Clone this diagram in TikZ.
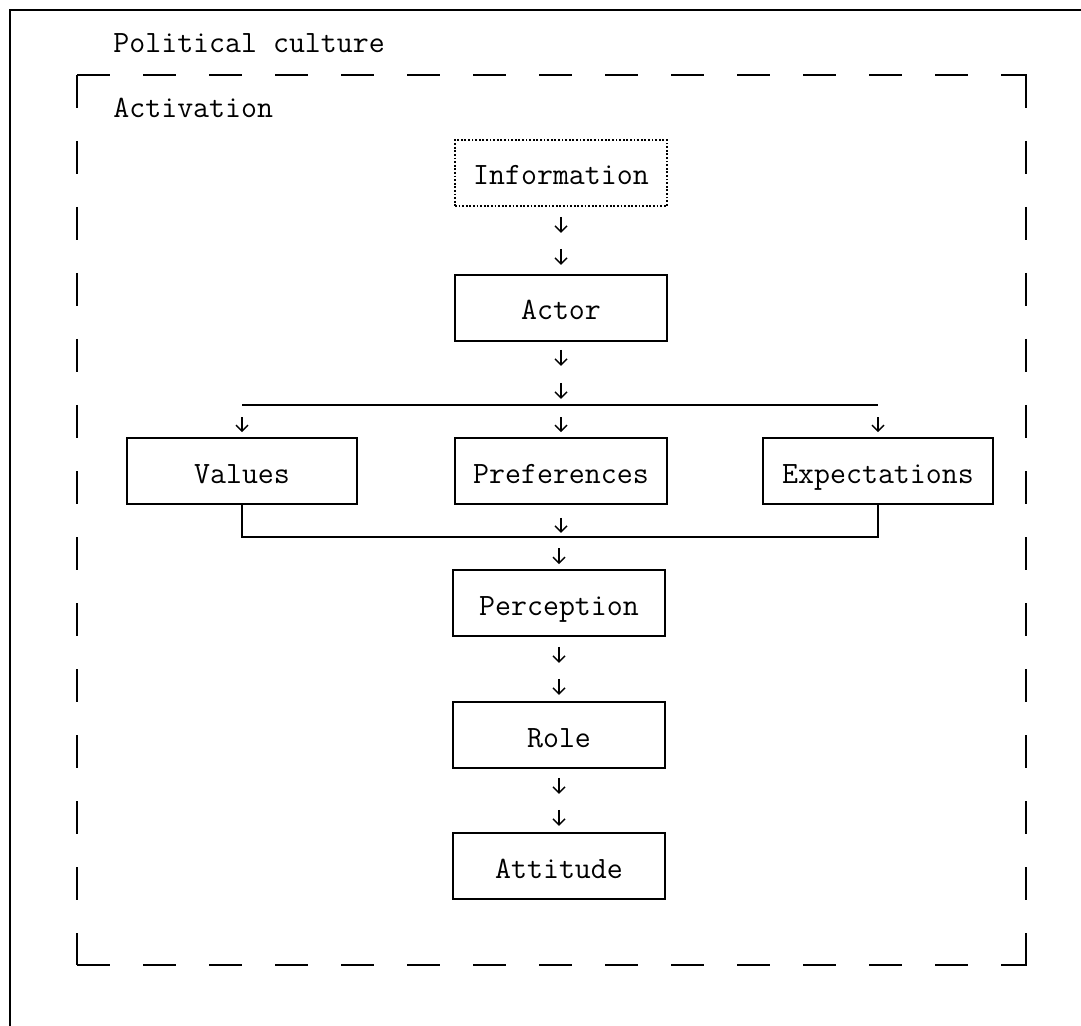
\documentclass[tikz,border=0pt]{standalone}
\usepackage{fontspec}
\usetikzlibrary{arrows.meta,calc}
\begin{document}
\begin{tikzpicture}[x=0.5pt,y=-0.5pt,
  txt/.style={font=\ttfamily\fontsize{15.5}{18}\selectfont},
  box/.style={txt,draw,line width=0.9pt,minimum width=106pt,minimum height=33pt,inner sep=0pt,
    text height=12pt,text depth=0pt},
  widebox/.style={box,minimum width=115pt},
  dotbox/.style={box,dash pattern=on 0.9pt off 0.9pt},
  frame/.style={line width=0.9pt,dash pattern=on 16.5pt off 16.5pt},
  arr/.style={line width=0.7pt,-{Straight Barb[length=3pt,width=6pt,line width=0.7pt]}},
  link/.style={line width=0.9pt}]
\useasboundingbox (0,0) rectangle (1081,1026);

% outer frame (top and left edges)
\draw[line width=0.8pt] (10,1026) -- (10,10) -- (1081,10);
\node[txt,anchor=base west,inner sep=0pt] (pc) at (113,53) {Political culture};

% inner dashed frame
\draw[frame] (77,75) -- (1027,75);
\draw[frame] (77,965) -- (1027,965);
\draw[frame] (77,75) -- (77,965);
\draw[frame] (1026,75) -- (1026,965);
\node[txt,anchor=base west,inner sep=0pt] (act) at (113,118) {Activation};

% boxes
\node[dotbox] (info) at (561,173) {Information};
\node[box] (actor) at (561,308) {Actor};
\node[widebox] (values) at (242,471) {Values};
\node[box] (pref) at (561,471) {Preferences};
\node[widebox] (expect) at (878,471) {Expectations};
\node[box] (percep) at (559,603) {Perception};
\node[box] (role) at (559,735) {Role};
\node[box] (attit) at (559,866) {Attitude};

% distribution bars
\coordinate (bar1) at (561,405);
\coordinate (bar2) at (561,537);
\draw[link] (values.south |- bar1) -- (expect.south |- bar1);
\draw[link] (values.south) -- (values.south |- bar2) -- (expect.south |- bar2) -- (expect.south);

% arrows
\draw[arr] ($(info.south)+(0,10)$) -- ++(0,16);
\draw[arr] ($(info.south)+(0,42)$) -- ++(0,16);
\draw[arr] ($(actor.south)+(0,8)$) -- ++(0,16);
\draw[arr] ($(actor.south)+(0,41)$) -- ++(0,16);
\draw[arr] ($(values.north)+(0,-20)$) -- ++(0,15);
\draw[arr] ($(pref.north)+(0,-20)$) -- ++(0,15);
\draw[arr] ($(expect.north)+(0,-20)$) -- ++(0,15);
\draw[arr] ($(pref.south)+(0,13)$) -- ++(0,15);
\draw[arr] ($(percep.north)+(0,-21)$) -- ++(0,16);
\draw[arr] ($(percep.south)+(0,10)$) -- ++(0,16);
\draw[arr] ($(percep.south)+(0,42)$) -- ++(0,16);
\draw[arr] ($(role.south)+(0,9)$) -- ++(0,16);
\draw[arr] ($(role.south)+(0,41)$) -- ++(0,16);
\end{tikzpicture}
\end{document}
